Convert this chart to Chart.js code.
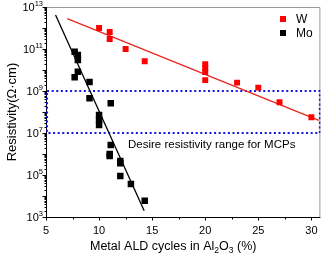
<!DOCTYPE html>
<html><head><meta charset="utf-8">
<script src="https://cdn.jsdelivr.net/npm/chart.js@4/dist/chart.umd.min.js"></script>
<style>html,body{margin:0;padding:0;background:#fff}#wrap{width:325px;height:258px;position:relative}</style>
</head><body><div id="wrap"><canvas id="c" width="325" height="258" style="width:325px;height:258px"></canvas></div>
<script>
// ---- data ----
const wCycles        = [10, 11, 11, 12.5, 14.3, 20, 20, 20, 20, 23, 25, 27, 30];
const wResistivity   = [1.0e12, 6.5e11, 3.0e11, 1.0e11, 2.6e10, 1.9e10, 1.25e10, 8e9, 3.3e9, 2.5e9, 1.45e9, 2.9e8, 5.6e7];
const moCycles       = [7.7, 8, 8, 8, 7.7, 9.1, 9.1, 11.1, 10, 10, 10, 11.1, 11, 11, 12, 12, 12, 13, 14.3];
const moResistivity  = [7.4e10, 5.2e10, 3e10, 8.3e9, 4.5e9, 2.7e9, 4.5e8, 2.6e8, 7.2e7, 4.2e7, 2.4e7, 2.7e6, 1e6, 8e5, 4.6e5, 3.6e5, 9e4, 3.7e4, 6e3];
const wFitCycles      = [7, 30.7];
const wFitResistivity = [2.8e12, 4.0e7];
const moFitCycles      = [5.9, 14.25];
const moFitResistivity = [4.2e12, 2.0e3];
const rangeCycles      = [5.1, 30.8, 30.8, 5.1, 5.1];
const rangeResistivity = [1e9, 1e9, 1e7, 1e7, 1e9];
const xTickValues   = [5, 10, 15, 20, 25, 30];
const yTickExponents = [3, 5, 7, 9, 11, 13];
const seriesNames = ['W', 'Mo'];
const rangeLabel = 'Desire resistivity range for MCPs';
const xTitle = ['Metal ALD cycles in Al', '2', 'O', '3', ' (%)'];
const yTitle = 'Resistivity(Ω·cm)';

const FONT = '"Liberation Sans", Arial, sans-serif';
const pts = (xs, ys) => xs.map((x, i) => ({x: x, y: ys[i]}));

const decorPlugin = {
  id: 'decor',
  beforeDatasetsDraw(chart) {
    const {ctx, chartArea: a, scales: {x, y}} = chart;
    ctx.save();
    // frame
    ctx.lineWidth = 1;
    ctx.strokeStyle = '#9a9a9a';
    ctx.beginPath();
    ctx.moveTo(a.left, a.top + 0.5); ctx.lineTo(a.right - 0.5, a.top + 0.5); ctx.lineTo(a.right - 0.5, a.bottom);
    ctx.stroke();
    ctx.strokeStyle = '#000';
    ctx.beginPath();
    ctx.moveTo(a.left + 0.5, a.top); ctx.lineTo(a.left + 0.5, a.bottom + 0.5); ctx.lineTo(a.right, a.bottom + 0.5);
    ctx.stroke();
    // y ticks (decades + minor)
    ctx.beginPath();
    for (let e = yTickExponents[0]; e <= yTickExponents[yTickExponents.length - 1]; e++) {
      const py = Math.round(y.getPixelForValue(Math.pow(10, e))) + 0.5;
      ctx.moveTo(a.left + 0.5, py); ctx.lineTo(a.left - 3.5, py);
      if (e < yTickExponents[yTickExponents.length - 1]) {
        for (let m = 2; m <= 9; m++) {
          const q = Math.round(y.getPixelForValue(m * Math.pow(10, e))) + 0.5;
          ctx.moveTo(a.left + 0.5, q); ctx.lineTo(a.left - 1.5, q);
        }
      }
    }
    // x ticks (major + minor)
    for (let v = xTickValues[0]; v <= 30.5; v += 2.5) {
      const px = Math.round(x.getPixelForValue(v)) + 0.5;
      const len = (v % 5 === 0) ? 3 : 2;
      ctx.moveTo(px, a.bottom + 0.5); ctx.lineTo(px, a.bottom + 0.5 + len);
    }
    ctx.stroke();

    // y tick labels with superscripts
    ctx.fillStyle = '#000';
    ctx.textBaseline = 'middle';
    yTickExponents.forEach(e => {
      const py = y.getPixelForValue(Math.pow(10, e));
      ctx.font = '7.5px ' + FONT;
      const ew = ctx.measureText(String(e)).width;
      ctx.textAlign = 'left';
      const right = a.left - 3;
      ctx.fillText(String(e), right - ew, py - 3.5);
      ctx.font = '11px ' + FONT;
      ctx.textAlign = 'right';
      ctx.fillText('10', right - ew, py + 1);
    });

    // x title with subscripts
    let cx = 90;
    const ty = 247;
    ctx.textAlign = 'left';
    xTitle.forEach((s, i) => {
      const sub = (i === 1 || i === 3);
      ctx.font = (sub ? '8.5px ' : '12.5px ') + FONT;
      ctx.fillText(s, cx, sub ? ty + 4 : ty);
      cx += ctx.measureText(s).width;
    });

    // y title
    ctx.save();
    ctx.translate(12, (a.top + a.bottom) / 2);
    ctx.rotate(-Math.PI / 2);
    ctx.font = '13px ' + FONT;
    ctx.textAlign = 'center';
    ctx.fillText(yTitle, 0, 0);
    ctx.restore();

    // annotation
    ctx.font = '11.5px ' + FONT;
    ctx.textAlign = 'left';
    ctx.fillText(rangeLabel, 128, 145);
    ctx.restore();
  },
  afterDraw(chart) {
    const {ctx} = chart;
    ctx.save();
    ctx.font = '12px ' + FONT;
    ctx.textBaseline = 'middle';
    ctx.textAlign = 'left';
    [0, 1].forEach(i => {
      const ds = chart.data.datasets[i];
      const cy = 19 + i * 14;
      ctx.fillStyle = ds.backgroundColor;
      ctx.fillRect(280, cy - 3, 6, 6);
      ctx.fillStyle = '#000';
      ctx.fillText(ds.label, 296, cy + 0.5);
    });
    ctx.restore();
  }
};

new Chart(document.getElementById('c'), {
  type: 'scatter',
  data: {
    datasets: [
      {label: seriesNames[0], data: pts(wCycles, wResistivity), backgroundColor: '#ff0000', borderWidth: 0,
       pointStyle: 'rect', pointRadius: 4.2, pointHoverRadius: 4.2},
      {label: seriesNames[1], data: pts(moCycles, moResistivity), backgroundColor: '#000000', borderWidth: 0,
       pointStyle: 'rect', pointRadius: 4.6, pointHoverRadius: 4.6},
      {label: 'W fit', data: pts(wFitCycles, wFitResistivity), showLine: true, borderColor: '#e8261e',
       borderWidth: 1.3, pointRadius: 0, fill: false},
      {label: 'Mo fit', data: pts(moFitCycles, moFitResistivity), showLine: true, borderColor: '#000000',
       borderWidth: 1.3, pointRadius: 0, fill: false},
      {label: 'range', data: pts(rangeCycles, rangeResistivity), showLine: true, borderColor: '#1414e6',
       borderWidth: 2, borderDash: [2, 2.6], pointRadius: 0, fill: false}
    ]
  },
  options: {
    responsive: false,
    maintainAspectRatio: false,
    animation: false,
    devicePixelRatio: 1,
    layout: {padding: {top: 7, right: 3, left: 0, bottom: 0}},
    plugins: {legend: {display: false}, tooltip: {enabled: false}},
    scales: {
      x: {
        type: 'linear', min: 5, max: 30.85,
        afterBuildTicks: s => { s.ticks = xTickValues.map(v => ({value: v})); },
        afterFit: s => { s.height = 41; },
        grid: {display: false, drawTicks: false},
        border: {display: false},
        ticks: {color: '#000', font: {family: FONT, size: 11}, padding: 7, maxRotation: 0, autoSkip: false}
      },
      y: {
        type: 'logarithmic', min: 1e3, max: 1e13,
        afterBuildTicks: s => { s.ticks = yTickExponents.map(e => ({value: Math.pow(10, e)})); },
        afterFit: s => { s.width = 46; },
        grid: {display: false, drawTicks: false},
        border: {display: false},
        ticks: {display: false}
      }
    }
  },
  plugins: [decorPlugin]
});
</script>
</body></html>
